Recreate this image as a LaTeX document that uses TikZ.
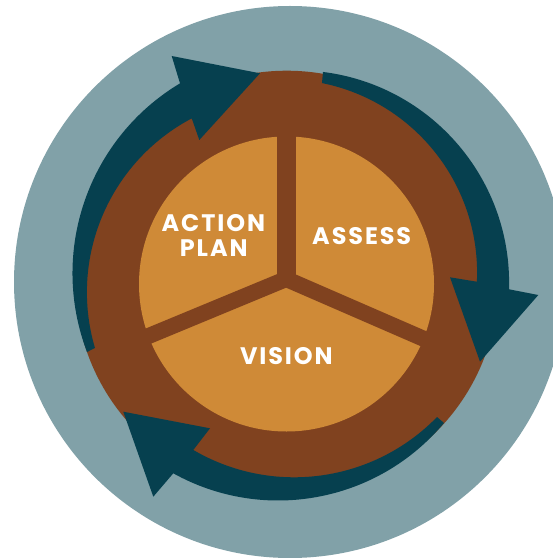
\documentclass[tikz,border=0pt]{standalone}
\usepackage{fontspec}
\setmainfont{Poppins}
\definecolor{ringgray}{RGB}{129,161,168}
\definecolor{arrowteal}{RGB}{6,64,79}
\definecolor{ringbrown}{RGB}{128,66,31}
\definecolor{coreorange}{RGB}{207,138,55}
\begin{document}
\begin{tikzpicture}[x=1bp,y=-1bp,
  lbl/.style={text=white,font=\bfseries\fontsize{24}{25}\selectfont\addfontfeature{LetterSpace=8},anchor=base,inner sep=0pt},
  teal shape/.style={fill=arrowteal},
  divider/.style={draw=ringbrown,line cap=butt}]
\useasboundingbox (0,0) rectangle (553,558);
\clip (0,0) rectangle (553,558);
% outer grey disc
\fill[ringgray] (290,282) circle[radius=276];
% brown ring
\fill[ringbrown] (286.7,282.2) circle[radius=211.5];
% top-right arrow
\path[teal shape] ([shift={(-82.86:212.5)}]296.6,282.8) arc[start angle=-82.86,end angle=1.75,radius=212.5]
  -- (538.3,295) -- (480,361.7) -- (450,277.3)
  -- ([shift={(2.67:193.5)}]283.6,272.7) arc[start angle=2.67,end angle=-78.56,radius=193.5] -- cycle;
% top-left arrow
\path[teal shape] ([shift={(159.15:221.4)}]293.9,273.2) arc[start angle=159.15,end angle=239.04,radius=221.4]
  -- (171.7,56) -- (260,73.3) -- (199.3,140)
  -- ([shift={(242.16:196.7)}]283.6,292.3) arc[start angle=242.16,end angle=163.55,radius=196.7] -- cycle;
% bottom arrow
\path[teal shape] ([shift={(39.87:216)}]278.2,284.5) arc[start angle=39.87,end angle=119.06,radius=216]
  -- (153.3,496.7) -- (123.3,411.7) -- (210,428.3)
  -- ([shift={(120.33:199.6)}]294.1,277.7) arc[start angle=120.33,end angle=44.27,radius=199.6] -- cycle;
% orange core
\fill[coreorange] (286.5,284) circle[radius=147.5];
% dividers
\coordinate (hub) at (286.2,279);
\draw[divider,line width=19bp] (286.2,287) -- (286.2,120);
\draw[divider,line width=16bp] (hub) -- ++(157.5:175);
\draw[divider,line width=16bp] (hub) -- ++(23.5:175);
% labels
\node[lbl] (action) at (213.3,231.7) {ACTION};
\node[lbl] (plan) at (213.7,256.7) {PLAN};
\node[lbl] (assess) at (361.7,244) {ASSESS};
\node[lbl] (vision) at (286.3,364) {VISION};
\end{tikzpicture}
\end{document}
